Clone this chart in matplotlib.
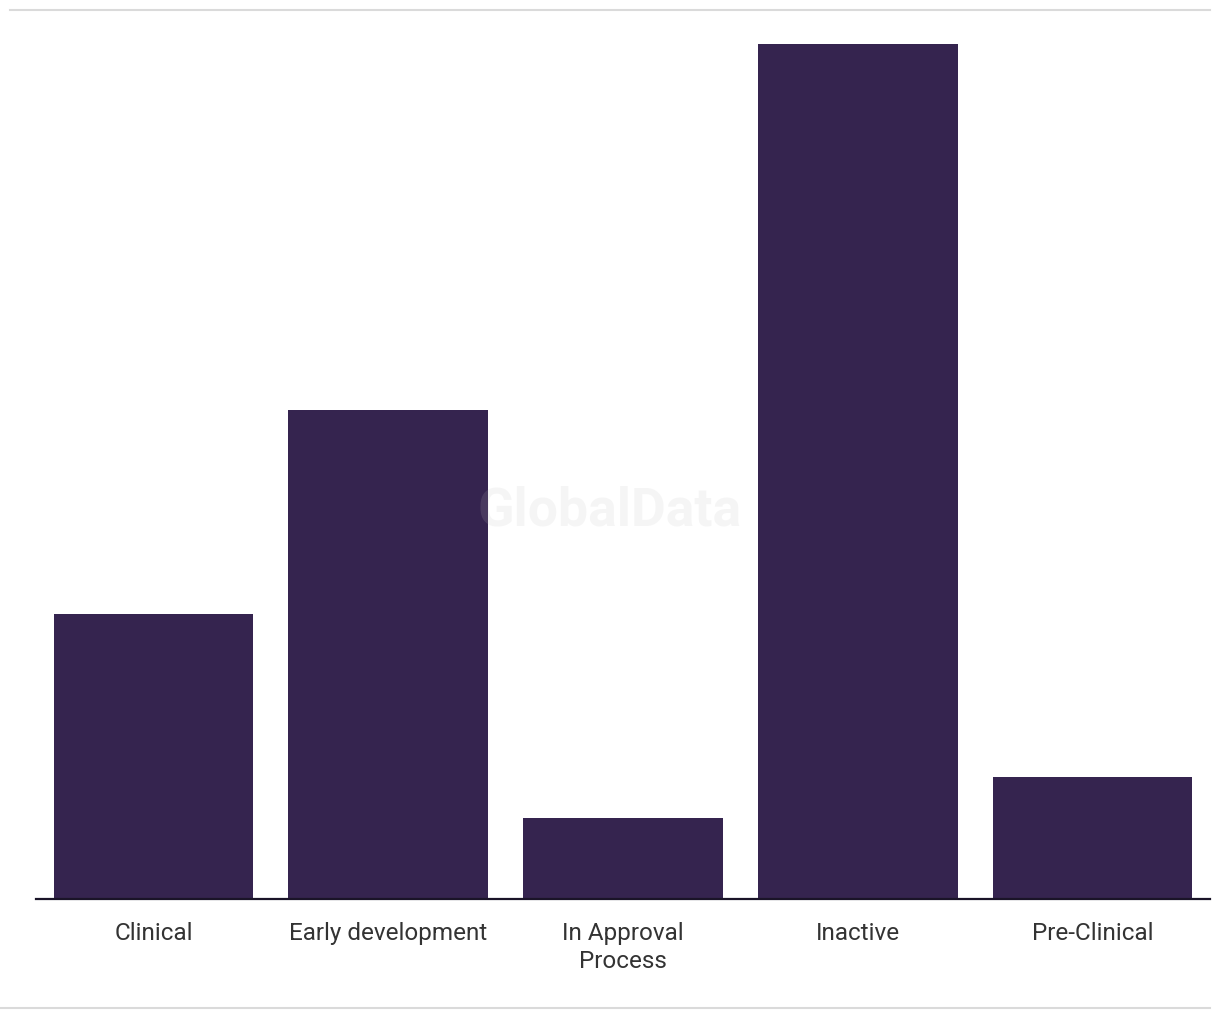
import matplotlib
matplotlib.use("Agg")
import matplotlib.pyplot as plt
from matplotlib.lines import Line2D

categories = ["Clinical", "Early development", "In Approval\nProcess", "Inactive", "Pre-Clinical"]
values = [7, 12, 2, 21, 3]

W, H = 1220, 1020
fig = plt.figure(figsize=(W / 100, H / 100), dpi=100)
fig.patch.set_facecolor("white")

left, right = 36, 1210
bottom, top = 900, 45
ax = fig.add_axes([left / W, 1 - bottom / H, (right - left) / W, (bottom - top) / H])
ax.bar(range(len(categories)), values, width=0.85, color="#35244f", zorder=2)
ax.set_xlim(-0.5, len(categories) - 0.5)
ax.set_ylim(0, max(values))
ax.set_yticks([])
ax.set_xticks(range(len(categories)))
ax.set_xticklabels(categories, fontsize=17.5, color="#333333", family=["Roboto", "DejaVu Sans"],
                   linespacing=1.33)
ax.tick_params(axis="x", length=0, pad=15.5)
for s in ["top", "right", "left"]:
    ax.spines[s].set_visible(False)
ax.spines["bottom"].set_color("#1a1428")
ax.spines["bottom"].set_linewidth(1.6)
ax.spines["bottom"].set_zorder(3)

fig.text(610 / W, 1 - 511 / H, "GlobalData", ha="center", va="center", fontsize=38.5,
         fontweight="bold", color="#bebebe", alpha=0.15, family=["Roboto", "DejaVu Sans"], zorder=5)

fig.add_artist(Line2D([10 / W, 1210 / W], [1 - 11 / H, 1 - 11 / H], color="#dadada", lw=1.5))
fig.add_artist(Line2D([0 / W, 1210 / W], [1 - 1008.5 / H, 1 - 1008.5 / H], color="#dadada", lw=1.5))

fig.savefig("out.png", dpi=100, facecolor="white")
